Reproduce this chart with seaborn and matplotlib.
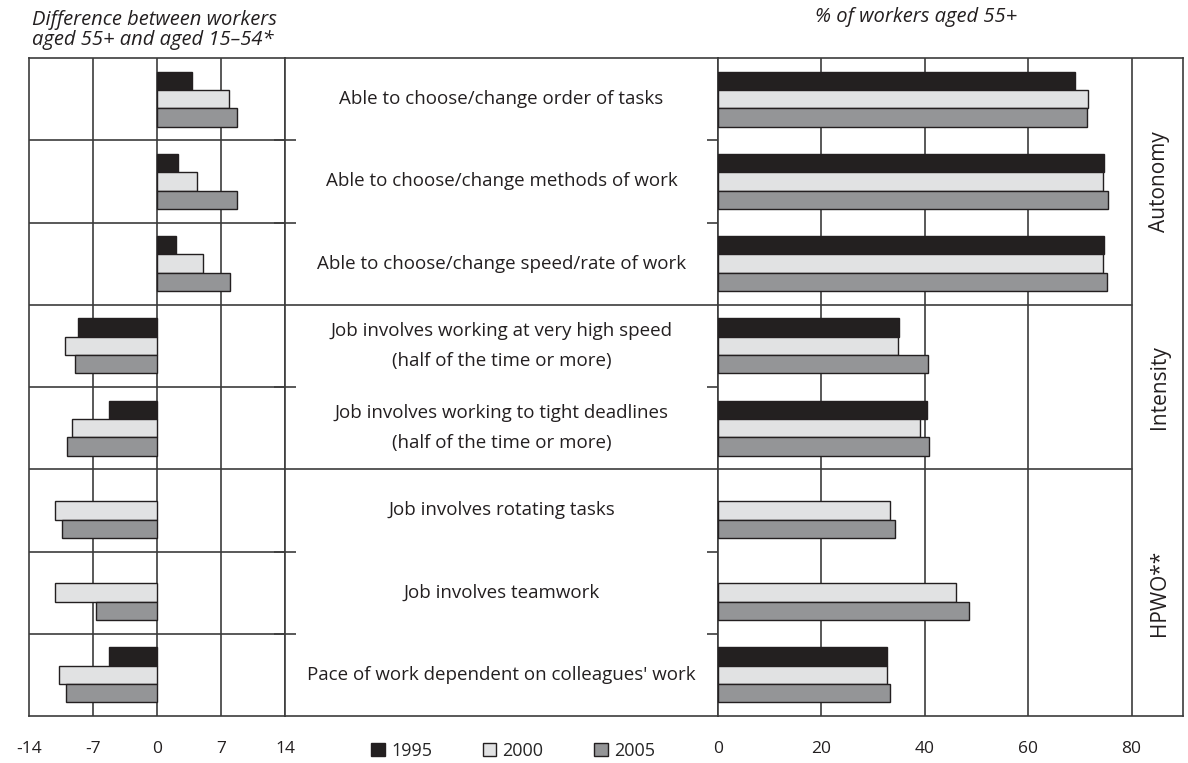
import numpy as np
import pandas as pd
import matplotlib
matplotlib.use("Agg")
import matplotlib.pyplot as plt
import seaborn as sns

sns.set_style("white")
plt.rcParams["font.family"] = ["Open Sans", "DejaVu Sans"]

ITEMS = [
    "Able to choose/change order of tasks",
    "Able to choose/change methods of work",
    "Able to choose/change speed/rate of work",
    "Job involves working at very high speed\n(half of the time or more)",
    "Job involves working to tight deadlines\n(half of the time or more)",
    "Job involves rotating tasks",
    "Job involves teamwork",
    "Pace of work dependent on colleagues' work",
]
YEARS = ["1995", "2000", "2005"]
GROUPS = ["Autonomy", "Intensity", "HPWO**"]
GROUP_ROWS = [(0, 2), (3, 4), (5, 7)]

# difference 55+ vs 15-54 (percentage points)
diff_1995 = [3.8, 2.3, 2.1, -8.6, -5.2, np.nan, np.nan, -5.3]
diff_2000 = [7.9, 4.4, 5.0, -10.1, -9.3, -11.2, -11.2, -10.7]
diff_2005 = [8.7, 8.8, 8.0, -9.0, -9.8, -10.4, -6.7, -9.9]

# % of workers aged 55+
pct_1995 = [69.0, 74.6, 74.6, 35.0, 40.5, np.nan, np.nan, 32.6]
pct_2000 = [71.5, 74.4, 74.5, 34.8, 39.0, 33.3, 46.1, 32.7]
pct_2005 = [71.4, 75.4, 75.3, 40.6, 40.9, 34.2, 48.6, 33.3]

PALETTE = {"1995": "#231f20", "2000": "#e1e2e3", "2005": "#939598"}
EDGE = "#231f20"
LINE = "#3c3c3c"
TXT = "#231f20"


def to_long(s1995, s2000, s2005):
    frames = []
    for year, vals in zip(YEARS, [s1995, s2000, s2005]):
        frames.append(pd.DataFrame({"item": ITEMS, "year": year, "value": vals}))
    return pd.concat(frames, ignore_index=True).dropna()


df_diff = to_long(diff_1995, diff_2000, diff_2005)
df_pct = to_long(pct_1995, pct_2000, pct_2005)

W, H = 1188, 763
fig = plt.figure(figsize=(W / 100, H / 100), dpi=100)
top, bot = 58, 716
yb, hh = (H - bot) / H, (bot - top) / H
ax_l = fig.add_axes([29 / W, yb, 256 / W, hh])
ax_m = fig.add_axes([285 / W, yb, 433 / W, hh])
ax_r = fig.add_axes([718 / W, yb, 465 / W, hh])

bar_kw = dict(y="item", x="value", hue="year", hue_order=YEARS, order=ITEMS,
              palette=PALETTE, orient="h", width=0.67,
              edgecolor=EDGE, linewidth=1.0, zorder=3)

sns.barplot(data=df_diff, ax=ax_l, legend=False, **bar_kw)
sns.barplot(data=df_pct, ax=ax_r, legend=True, **bar_kw)

n = len(ITEMS)
bounds = np.arange(n + 1) - 0.5
group_bounds = [GROUP_ROWS[0][1] + 0.5, GROUP_ROWS[1][1] + 0.5]
inner_bounds = [b for b in bounds[1:-1] if b not in group_bounds]

for ax in (ax_l, ax_m, ax_r):
    ax.set_ylim(n - 0.5, -0.5)
    ax.set_xlabel("")
    ax.set_ylabel("")
    ax.set_yticks([])
    for sp in ax.spines.values():
        sp.set_visible(True)
        sp.set_color(LINE)
        sp.set_linewidth(1.2)

tick_font = 12.5

# left panel
ax_l.set_xlim(-14, 14)
ax_l.set_xticks([-14, -7, 0, 7, 14])
ax_l.set_xticklabels(["-14", "-7", "0", "7", "14"])
ax_l.tick_params(axis="x", length=0, pad=18, labelsize=tick_font, colors=TXT)
ax_l.set_xticks([0, 14], minor=True)
ax_l.tick_params(axis="x", which="minor", length=13, width=1.2, color=LINE)
for v in (-7, 0, 7):
    ax_l.axvline(v, color=LINE, lw=1.2, zorder=1)
for b in bounds[1:-1]:
    ax_l.axhline(b, color=LINE, lw=1.2, zorder=1)

# middle panel with item labels
ax_m.set_xlim(0, 1)
ax_m.set_xticks([])
for i, label in enumerate(ITEMS):
    ax_m.text(0.5, i, label, ha="center", va="center", fontsize=13.5,
              linespacing=1.85, color=TXT)
for b in group_bounds:
    ax_m.axhline(b, color=LINE, lw=1.2)
ax_m.set_yticks(inner_bounds)
ax_m.set_yticklabels([])
ax_m.tick_params(axis="y", left=True, right=True, direction="inout",
                 length=16, width=1.2, color=LINE)

# right panel
ax_r.set_xlim(0, 465 / 5.17)
ax_r.set_xticks([0, 20, 40, 60, 80])
ax_r.tick_params(axis="x", length=0, pad=18, labelsize=tick_font, colors=TXT)
for v in (20, 40, 60, 80):
    ax_r.axvline(v, color=LINE, lw=1.2, zorder=1)
for b in group_bounds:
    ax_r.plot([0, 80], [b, b], color=LINE, lw=1.2, zorder=1)
for name, (r0, r1) in zip(GROUPS, GROUP_ROWS):
    ax_r.text(85.3, (r0 + r1) / 2, name, rotation=90, ha="center", va="center",
              fontsize=15, color=TXT)

handles, labels = ax_r.get_legend_handles_labels()
ax_r.get_legend().remove()
fig.legend(handles, labels, loc="center", bbox_to_anchor=(513 / W, (H - 751) / H),
           ncol=3, frameon=False, fontsize=13, handlelength=0.75,
           handleheight=0.75, handletextpad=0.35, columnspacing=2.8,
           borderaxespad=0)

fig.text(32 / W, (H - 30) / H, "Difference between workers\naged 55+ and aged 15\u201354*",
         style="italic", fontsize=14.5, ha="left", va="center", linespacing=1.05,
         color=TXT)
fig.text(916 / W, (H - 17) / H, "% of workers aged 55+", style="italic",
         fontsize=14.5, ha="center", va="center", color=TXT)

fig.savefig("out.png", dpi=100)
